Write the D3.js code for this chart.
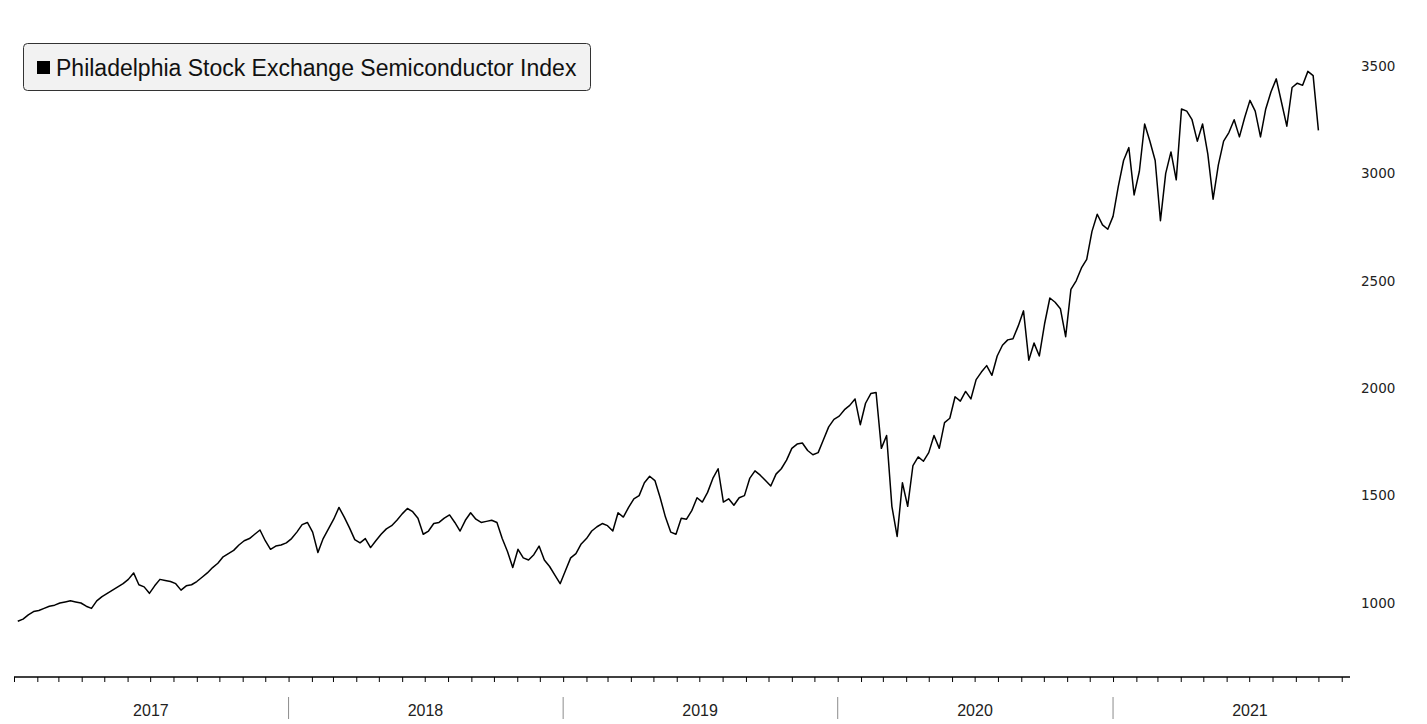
<!DOCTYPE html>
<html>
<head>
<meta charset="utf-8">
<script src="https://cdn.jsdelivr.net/npm/d3@7"></script>
<style>
    body { margin: 0; background: #ffffff; }
    #my_chart { width: 1427px; height: 724px; }
</style>
</head>
<body>
<div id="my_chart"></div>
<script>
// Weekly (Friday) closes of the SOX index
const close2017 = [915, 925, 945, 960, 965, 975, 985, 990, 1000, 1005, 1010, 1005, 1000, 985, 975, 1010, 1030, 1045, 1060, 1075,
    1090, 1110, 1140, 1085, 1075, 1045, 1080, 1110, 1105, 1100, 1090, 1060, 1080, 1085, 1100, 1120, 1140, 1165, 1185, 1215,
    1230, 1245, 1270, 1290, 1300, 1320, 1340, 1290, 1250, 1265, 1270, 1280];
const close2018 = [1300, 1330, 1365, 1375, 1330, 1235, 1300, 1345, 1390, 1445, 1400, 1350, 1295, 1280, 1300, 1258, 1290, 1320, 1345, 1360,
    1385, 1415, 1440, 1425, 1395, 1320, 1335, 1370, 1375, 1395, 1410, 1375, 1335, 1385, 1420, 1390, 1375, 1380, 1385, 1375,
    1300, 1240, 1165, 1250, 1210, 1200, 1225, 1265, 1200, 1170, 1130, 1090];
const close2019 = [1150, 1210, 1230, 1275, 1300, 1335, 1355, 1370, 1360, 1335, 1420, 1400, 1445, 1485, 1500, 1560, 1590, 1570, 1490, 1400,
    1330, 1320, 1395, 1390, 1430, 1490, 1470, 1515, 1580, 1625, 1470, 1485, 1455, 1490, 1500, 1580, 1615, 1595, 1570, 1545,
    1600, 1625, 1665, 1720, 1740, 1745, 1710, 1690, 1700, 1760, 1820, 1855];
const close2020 = [1870, 1900, 1920, 1950, 1830, 1930, 1975, 1980, 1720, 1780, 1450, 1310, 1560, 1450, 1640, 1680, 1660, 1700, 1780, 1720,
    1840, 1860, 1960, 1940, 1985, 1950, 2040, 2075, 2105, 2060, 2150, 2200, 2225, 2230, 2290, 2360, 2130, 2210, 2150, 2300,
    2420, 2400, 2370, 2240, 2460, 2500, 2560, 2600, 2730, 2810, 2760, 2740];
const close2021 = [2800, 2940, 3060, 3120, 2900, 3010, 3230, 3150, 3060, 2780, 3000, 3100, 2970, 3300, 3290, 3250, 3150, 3230, 3090, 2880,
    3040, 3150, 3190, 3250, 3170, 3260, 3340, 3290, 3170, 3300, 3380, 3440, 3330, 3220, 3400, 3420, 3410, 3475, 3455, 3200];

const yearLabels = ["2017", "2018", "2019", "2020", "2021"];
const yTicks = [1000, 1500, 2000, 2500, 3000, 3500];
const seriesName = "Philadelphia Stock Exchange Semiconductor Index";

const params = {
    svgElementId: "#my_chart",
    width: 1427,
    height: 724,
    axisY: 677,
    lineColor: "#000000"
};

// --------------------------------------
// Build the table of points: one close per Friday of each year
const closesByYear = [close2017, close2018, close2019, close2020, close2021];
let data = [];
yearLabels.forEach(function (year, i) {
    let fridays = d3.timeFriday.range(new Date(+year, 0, 1), new Date(+year + 1, 0, 1));
    closesByYear[i].forEach(function (v, j) {
        data.push({ date: fridays[j], value: v });
    });
});

const svg = d3.select(params.svgElementId)
    .append("svg")
    .attr("width", params.width)
    .attr("height", params.height)
    .style("font-family", "'Liberation Sans', Arial, sans-serif");

// --------------------------------------
// Scales. The time axis runs a little past the last data point
const x = d3.scaleTime()
    .domain([new Date(2017, 0, 1), new Date(2021, 10, 12)])
    .range([14, 1350]);
const y = d3.scaleLinear()
    .domain([1000, 3500])
    .range([603, 66]);

// --------------------------------------
// Bottom axis with monthly ticks
const xAxis = d3.axisBottom(x)
    .ticks(d3.timeMonth.every(1))
    .tickSize(5)
    .tickFormat("");
const gx = svg.append("g")
    .attr("transform", "translate(0," + params.axisY + ")")
    .call(xAxis);
gx.select(".domain")
    .attr("d", "M" + x.range()[0] + ",0H" + x.range()[1])
    .attr("stroke", "#000")
    .attr("stroke-width", 1.5);
gx.selectAll(".tick line").attr("stroke", "#000");

// Year separators and labels under the axis
const yearStarts = yearLabels.map(yr => new Date(+yr, 0, 1));
svg.append("g")
    .selectAll("line")
    .data(yearStarts.slice(1))
    .join("line")
    .attr("x1", d => x(d)).attr("x2", d => x(d))
    .attr("y1", 697).attr("y2", 719)
    .attr("stroke", "#8c8c8c")
    .attr("stroke-width", 1);
svg.append("g")
    .selectAll("text")
    .data(yearLabels)
    .join("text")
    .attr("x", function (d) {
        let a = x(new Date(+d, 0, 1));
        let b = Math.min(x(new Date(+d + 1, 0, 1)), x(new Date(+d, 11, 31)));
        return (a + b) / 2;
    })
    .attr("y", 716)
    .attr("text-anchor", "middle")
    .attr("font-size", 16)
    .attr("fill", "#222")
    .text(d => d);

// --------------------------------------
// Right side value labels (no gridlines in the original)
svg.append("g")
    .selectAll("text")
    .data(yTicks)
    .join("text")
    .attr("x", 1361)
    .attr("y", d => y(d))
    .attr("dy", "0.35em")
    .attr("font-family", "'DejaVu Sans', Verdana, sans-serif")
    .attr("font-size", 13.5)
    .attr("fill", "#222")
    .text(d => d);

// --------------------------------------
// The index line
const line = d3.line()
    .x(d => x(d.date))
    .y(d => y(d.value));
svg.append("path")
    .datum(data)
    .attr("d", line)
    .attr("fill", "none")
    .attr("stroke", params.lineColor)
    .attr("stroke-width", 1.5)
    .attr("stroke-linejoin", "round");

// --------------------------------------
// Legend box, top left
const legend = svg.append("g");
legend.append("rect")
    .attr("x", 23.5).attr("y", 43.5)
    .attr("width", 567).attr("height", 47)
    .attr("rx", 4)
    .attr("fill", "#f2f2f2")
    .attr("stroke", "#333")
    .attr("stroke-width", 1);
legend.append("rect")
    .attr("x", 37).attr("y", 61)
    .attr("width", 13).attr("height", 13)
    .attr("fill", params.lineColor);
legend.append("text")
    .attr("x", 56).attr("y", 76)
    .attr("font-size", 23)
    .attr("fill", "#111")
    .text(seriesName);
</script>
</body>
</html>
